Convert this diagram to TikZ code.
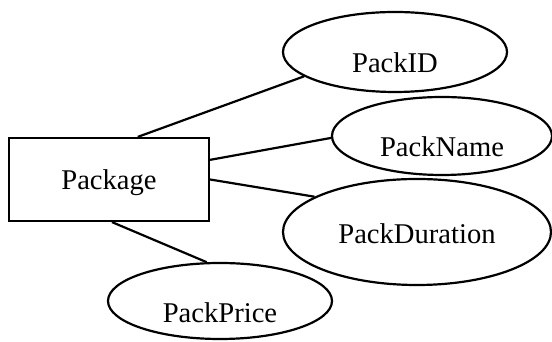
\documentclass[tikz,border=0pt]{standalone}
\usepackage{fontspec}
\setmainfont{Liberation Serif}
\usetikzlibrary{shapes.geometric}
\begin{document}
\begin{tikzpicture}[x=1pt,y=1pt,line width=2.2pt,
  font=\fontsize{28.6}{34}\selectfont,
  entity/.style={draw,rectangle,inner sep=0pt,minimum width=200pt,minimum height=83pt,text height=21pt,text depth=0pt},
  attr/.style={draw,ellipse,inner sep=0pt,text height=42pt,text depth=0pt}]
\useasboundingbox (0,0) rectangle (552,342);
\node[entity] (pkg) at (109,162.5) {Package};
\node[attr,minimum width=224pt,minimum height=80pt] (id) at (395,290) {PackID};
\node[attr,minimum width=220pt,minimum height=78pt] (name) at (442,206) {PackName};
\node[attr,minimum width=268pt,minimum height=106pt,text height=24pt] (dur) at (417,110) {PackDuration};
\node[attr,minimum width=224pt,minimum height=76pt,text height=44pt] (price) at (220,41) {PackPrice};
% links from the entity to its attributes
\draw (pkg.56) -- (id.195);
\draw (pkg.11.6) -- (name.181);
\draw (pkg.east) -- (dur.161.6);
\draw (pkg.-86) -- (price.109);
\end{tikzpicture}
\end{document}
